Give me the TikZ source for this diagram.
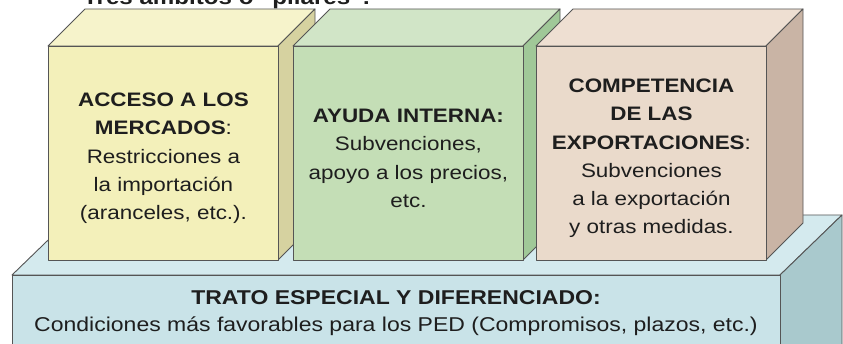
\documentclass[tikz,border=0pt]{standalone}
\usepackage{fontspec}
\setmainfont{Liberation Sans}[FakeStretch=1.15]
\usepackage{tikz}
\usetikzlibrary{positioning, calc}
\definecolor{edgegray}{RGB}{85,85,85}
\definecolor{inkdark}{RGB}{30,30,30}
\definecolor{frontyel}{RGB}{243,240,186}
\definecolor{topyel}{RGB}{246,243,203}
\definecolor{sideyel}{RGB}{214,210,160}
\definecolor{frontgrn}{RGB}{196,222,182}
\definecolor{topgrn}{RGB}{209,229,199}
\definecolor{sidegrn}{RGB}{160,200,152}
\definecolor{frontpnk}{RGB}{234,218,203}
\definecolor{toppnk}{RGB}{238,223,210}
\definecolor{sidepnk}{RGB}{201,180,165}
\definecolor{frontbase}{RGB}{201,227,232}
\definecolor{topbase}{RGB}{212,234,238}
\definecolor{sidebase}{RGB}{169,201,205}
\tikzset{
  face/.style={draw=edgegray, line width=0.9pt, line join=round},
  frontbox/.style={
    face, rectangle, anchor=north west, inner sep=0pt,
    minimum width=230pt, minimum height=214pt
  },
  bodytext/.style={align=center, inner sep=0pt, text=inkdark,
    font=\fontsize{19.5}{28.3}\selectfont},
  basetext/.style={bodytext, font=\fontsize{20}{27}\selectfont},
}

\begin{document}
\begin{tikzpicture}[x=1pt, y=-1pt]
  \useasboundingbox (0,0) rectangle (843,344);

  % Title (cut by the frame)
  \node[anchor=base west, inner sep=0pt, text=inkdark,
    font=\fontsize{21}{25}\selectfont\bfseries] (titulo) at (83,5)
    {Tres ámbitos o “pilares”:};

  % Base
  \path[face, fill=topbase] (12,275) -- (74,215) -- (842,215) -- (780,275) -- cycle;
  \path[face, fill=sidebase] (780,275) -- (842,215) -- (842,420) -- (780,480) -- cycle;
  \node[frontbox, fill=frontbase, minimum width=768pt, minimum height=120pt] (base) at (12,275) {};
  \node[basetext] (trato) at (396,313)
    {\textbf{TRATO ESPECIAL Y DIFERENCIADO:}\\Condiciones más favorables para los PED (Compromisos, plazos, etc.)};

  % Pillars: top and side faces
  \foreach \x/\c in {48/yel, 293/grn, 536/pnk} {
    \path[face, fill=top\c] (\x,46) -- ++(37,-37) -- ++(230,0) -- ++(-37,37) -- cycle;
    \path[face, fill=side\c] (\x+230,46) -- ++(37,-37) -- ++(0,214) -- ++(-37,37) -- cycle;
  }

  % Pillars: front faces
  \node[frontbox, fill=frontyel] (acceso) at (48,46) {};
  \node[frontbox, fill=frontgrn] (ayuda) at (293,46) {};
  \node[frontbox, fill=frontpnk] (competencia) at (536,46) {};

  % Pillar texts
  \node[bodytext] (accesotxt) at ($(acceso.center)+(0,5)$)
    {\textbf{ACCESO A LOS}\\\textbf{MERCADOS}:\\Restricciones a\\la importación\\(aranceles, etc.).};
  \node[bodytext] (ayudatxt) at ($(ayuda.center)+(0,5)$)
    {\textbf{AYUDA INTERNA:}\\Subvenciones,\\apoyo a los precios,\\etc.};
  \node[bodytext] (competenciatxt) at ($(competencia.center)+(0,5)$)
    {\textbf{COMPETENCIA}\\\textbf{DE LAS}\\\textbf{EXPORTACIONES}:\\Subvenciones\\a la exportación\\y otras medidas.};

\end{tikzpicture}
\end{document}
